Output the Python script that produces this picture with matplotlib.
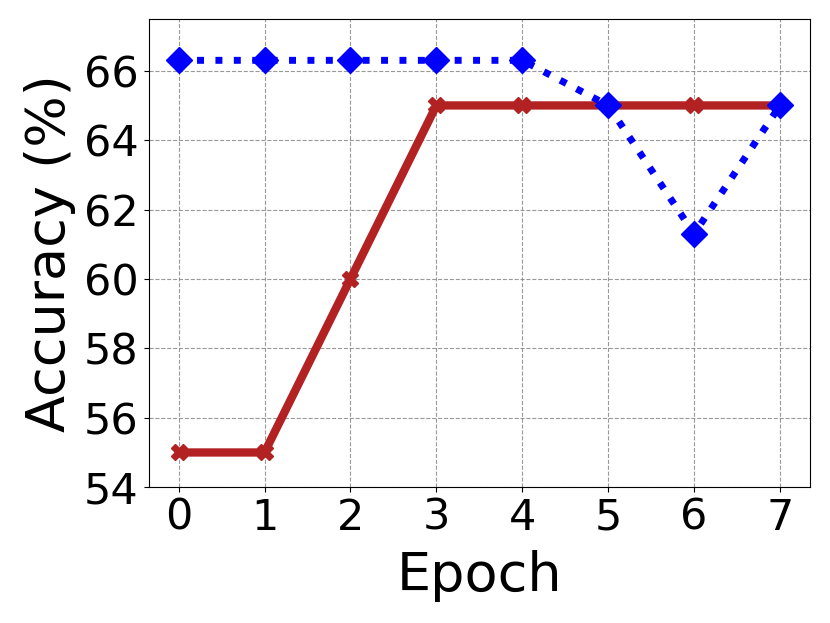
import matplotlib
matplotlib.use("Agg")
import matplotlib.pyplot as plt

epochs = [0, 1, 2, 3, 4, 5, 6, 7]
acc_red = [55, 55, 60, 65, 65, 65, 65, 65]
acc_blue = [66.3, 66.3, 66.3, 66.3, 66.3, 65, 61.3, 65]
yticks = [54, 56, 58, 60, 62, 64, 66]

fig = plt.figure(figsize=(8.3, 6.23), dpi=100)
ax = fig.add_axes([0.179, 0.218, 0.797, 0.752])

ax.plot(epochs, acc_red, color='#b22222', linestyle='-', linewidth=6,
        marker='X', markersize=12)
ax.plot(epochs, acc_blue, color='blue', linestyle=':', linewidth=5,
        marker='D', markersize=13)

ax.set_ylim(54, 67.5)
ax.set_yticks(yticks)
ax.set_xticks(epochs)
ax.tick_params(labelsize=31)
ax.set_xlabel('Epoch', fontsize=39, labelpad=8)
ax.set_ylabel('Accuracy (%)', fontsize=39, labelpad=6)
ax.grid(True, linestyle='--', color='gray', alpha=0.8)

fig.savefig('out.png', dpi=100)
